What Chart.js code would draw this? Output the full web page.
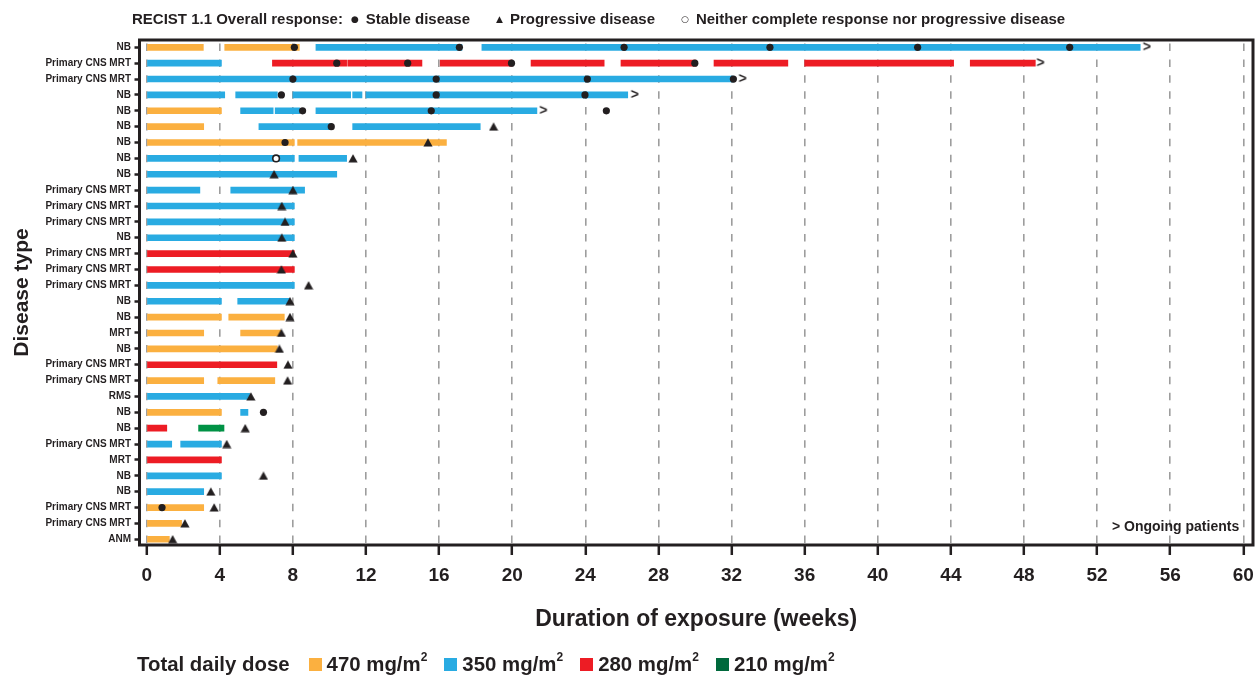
<!DOCTYPE html>
<html>
<head>
<meta charset="utf-8">
<script src="https://cdn.jsdelivr.net/npm/chart.js@4.4.1/dist/chart.umd.min.js"></script>
<style>
  html, body { margin: 0; padding: 0; background: #fff; }
  body { width: 1259px; height: 675px; position: relative; overflow: hidden;
         font-family: "Liberation Sans", Arial, Helvetica, sans-serif; color: #231f20; font-weight: bold; }
  #c { position: absolute; left: 0; top: 0; }
  #topLegend { position: absolute; left: 132px; top: 10px; font-size: 15px; line-height: 18px;
               white-space: nowrap; display: flex; align-items: center; }
  #topLegend .sym { font-family: "DejaVu Sans", sans-serif; font-size: 9px; margin: 0 7px 0 26px; }
  #topLegend .sym.first { margin-left: 8px; }
  #bottomLegend { position: absolute; left: 137px; top: 652px; font-size: 20.4px; line-height: 24px;
                  white-space: nowrap; display: flex; align-items: center; }
  #bottomLegend .sw { display: inline-block; width: 13px; height: 13px; margin: 0 5px 0 17px; }
  #bottomLegend .sw.first { margin-left: 19px; }
  #bottomLegend sup { font-size: 12px; line-height: 0; position: relative; top: -2px; }
  #ongoing { position: absolute; left: 1112px; top: 517px; font-size: 14px; line-height: 18px; white-space: nowrap; }
</style>
</head>
<body>
<canvas id="c" width="1259" height="675"></canvas>
<div id="topLegend">
  <span>RECIST 1.1 Overall response:</span>
  <span class="sym first">●</span><span>Stable disease</span>
  <span class="sym">▲</span><span>Progressive disease</span>
  <span class="sym">○</span><span>Neither complete response nor progressive disease</span>
</div>
<div id="bottomLegend">
  <span>Total daily dose</span>
  <span class="sw first" style="background:#FBB040"></span><span>470 mg/m<sup>2</sup></span>
  <span class="sw" style="background:#29ABE2"></span><span>350 mg/m<sup>2</sup></span>
  <span class="sw" style="background:#ED1C24"></span><span>280 mg/m<sup>2</sup></span>
  <span class="sw" style="background:#00693C"></span><span>210 mg/m<sup>2</sup></span>
</div>
<div id="ongoing">&gt; Ongoing patients</div>
<script>
// ---------- DATA ----------
const diseaseTypes = ['NB','Primary CNS MRT','Primary CNS MRT','NB','NB','NB','NB','NB','NB',
  'Primary CNS MRT','Primary CNS MRT','Primary CNS MRT','NB','Primary CNS MRT','Primary CNS MRT',
  'Primary CNS MRT','NB','NB','MRT','NB','Primary CNS MRT','Primary CNS MRT','RMS','NB','NB',
  'Primary CNS MRT','MRT','NB','NB','Primary CNS MRT','Primary CNS MRT','ANM'];

const xTicks = [0,4,8,12,16,20,24,28,32,36,40,44,48,52,56,60];

// [row, start week, end week]
const dose470 = [
  [0,0,3.1],[0,4.27,8.35],[4,0,4.09],[5,0,3.12],[6,0,8.08],[6,8.26,16.4],
  [17,0,4.09],[17,4.49,7.53],[18,0,3.12],[18,5.14,7.33],[19,0,7.15],
  [21,0,3.12],[21,3.89,7.01],[23,0,4.09],[29,0,3.12],[30,0,1.91],[31,0,1.24]
];
const dose350 = [
  [0,9.26,17.25],[0,18.34,54.36],[1,0,4.09],[2,0,32.1],
  [3,0,4.27],[3,4.87,7.15],[3,8.0,11.16],[3,11.27,11.78],[3,12.0,26.32],
  [4,5.14,6.92],[4,7.03,8.37],[4,9.26,21.35],[5,6.14,10.09],[5,11.27,18.25],
  [7,0,8.08],[7,8.33,10.94],[8,0,10.4],[9,0,2.91],[9,4.6,8.64],
  [10,0,8.08],[11,0,8.08],[12,0,8.08],[15,0,8.08],[16,0,4.09],[16,4.98,7.82],
  [22,0,5.63],[23,5.14,5.54],[25,0,1.37],[25,1.86,4.09],[27,0,4.09],[28,0,3.12]
];
const dose280 = [
  [1,6.88,10.94],[1,11.0,15.06],[1,16.06,19.98],[1,21.03,25.03],[1,25.95,30.05],
  [1,31.04,35.08],[1,36.0,44.15],[1,45.06,48.62],
  [13,0,8.08],[14,0,8.08],[20,0,7.12],[24,0,1.1],[26,0,4.09]
];
const dose210 = [[24,2.84,4.23]];

// [row, week]
const stableDisease = [
  [0,8.08],[0,17.11],[0,26.12],[0,34.1],[0,42.18],[0,50.5],
  [1,10.4],[1,14.28],[1,19.96],[1,29.99],
  [2,8.0],[2,15.84],[2,24.11],[2,32.1],
  [3,7.37],[3,15.84],[3,23.98],
  [4,8.53],[4,15.57],[4,25.15],
  [5,10.1],[6,7.57],[23,6.39],[29,0.84]
];
const progressiveDisease = [
  [5,18.98],[6,15.39],[7,11.29],[8,6.97],[9,8.0],[10,7.39],[11,7.57],[12,7.39],[13,8.0],
  [14,7.37],[15,8.86],[16,7.84],[17,7.84],[18,7.37],[19,7.26],[20,7.73],[21,7.71],[22,5.7],
  [24,5.39],[25,4.38],[27,6.39],[28,3.51],[29,3.69],[30,2.09],[31,1.42]
];
const neitherCRnorPD = [[7,7.08]];
const ongoing = [[0,54.72],[1,48.9],[2,32.6],[3,26.7],[4,21.7]];

// ---------- STYLE ----------
const INK = '#231f20';
const FONT = '"Liberation Sans", Arial, Helvetica, sans-serif';
const toBars = arr => arr.map(([r, s, e]) => ({ y: r, x: [s, e] }));
const toPts = arr => arr.map(([r, w]) => ({ y: r, x: w }));

function makeTriangle() {
  const c = document.createElement('canvas'); c.width = 10; c.height = 9;
  const g = c.getContext('2d'); g.fillStyle = INK;
  g.beginPath(); g.moveTo(5, 0.3); g.lineTo(9.6, 8.6); g.lineTo(0.4, 8.6); g.closePath(); g.fill();
  return c;
}
function makeArrow() {
  const c = document.createElement('canvas'); c.width = 10; c.height = 12;
  const g = c.getContext('2d'); g.fillStyle = INK;
  g.font = 'bold 14px ' + FONT; g.textAlign = 'center'; g.textBaseline = 'middle';
  g.fillText('>', 5, 6.5);
  return c;
}

const barDs = (data, color) => ({
  type: 'bar', indexAxis: 'y', data: toBars(data), backgroundColor: color,
  borderWidth: 0, barThickness: 6, grouped: false, order: 2
});

const framePlugin = {
  id: 'frame',
  beforeDatasetsDraw(chart) {
    const { ctx, chartArea: a } = chart;
    ctx.save(); ctx.lineWidth = 3; ctx.strokeStyle = INK;
    ctx.strokeRect(a.left, a.top, a.right - a.left, a.bottom - a.top);
    ctx.restore();
  }
};

new Chart(document.getElementById('c'), {
  type: 'bar',
  data: {
    datasets: [
      { type: 'scatter', data: toPts(stableDisease), pointStyle: 'circle', pointRadius: 3.6,
        backgroundColor: INK, borderWidth: 0, order: 0 },
      { type: 'scatter', data: toPts(progressiveDisease), pointStyle: makeTriangle(), pointRadius: 5, order: 0 },
      { type: 'scatter', data: toPts(neitherCRnorPD), pointStyle: 'circle', pointRadius: 3.3,
        backgroundColor: '#fff', borderColor: INK, borderWidth: 1.6, order: 0 },
      { type: 'scatter', data: toPts(ongoing), pointStyle: makeArrow(), pointRadius: 5, order: 0 },
      barDs(dose470, '#FBB040'),
      barDs(dose350, '#29ABE2'),
      barDs(dose280, '#ED1C24'),
      barDs(dose210, '#009245')
    ]
  },
  options: {
    responsive: false, animation: false, devicePixelRatio: 1, events: [],
    layout: { padding: { top: 40, right: 4, left: 0, bottom: 0 } },
    plugins: { legend: { display: false }, tooltip: { enabled: false } },
    scales: {
      x: {
        type: 'linear', position: 'bottom', min: -0.393, max: 60.53, offset: false,
        afterBuildTicks: s => { s.ticks = xTicks.map(v => ({ value: v })); },
        afterFit: s => { s.height = 130; s.paddingLeft = 0; s.paddingRight = 0; },
        ticks: { autoSkip: false, maxRotation: 0, padding: 9.5, color: INK,
                 font: { family: FONT, size: 19, weight: 'bold' } },
        grid: { display: true, offset: false, drawOnChartArea: true, color: '#9d9d9d', lineWidth: 1.6,
                drawTicks: true, tickLength: 10, tickColor: INK, tickWidth: 2.5 },
        border: { display: false, dash: [7.5, 8.371], dashOffset: 12.32 },
        title: { display: true, text: 'Duration of exposure (weeks)', color: INK,
                 font: { family: FONT, size: 23, weight: 'bold' }, padding: { top: 0, bottom: 41.5 } }
      },
      y: {
        type: 'linear', position: 'left', reverse: true, min: -0.46, max: 31.36, offset: false,
        afterBuildTicks: s => { s.ticks = diseaseTypes.map((_, i) => ({ value: i })); },
        afterFit: s => { s.width = 139.5; },
        ticks: { autoSkip: false, padding: 3.5, color: INK,
                 font: { family: FONT, size: 10, weight: 'bold' },
                 callback: v => diseaseTypes[v] ?? '' },
        grid: { display: true, offset: false, drawOnChartArea: false, drawTicks: true, tickLength: 5,
                tickColor: INK, tickWidth: 2.5 },
        border: { display: false },
        title: { display: true, text: 'Disease type', color: INK,
                 font: { family: FONT, size: 21, weight: 'bold' }, padding: { top: 9.4, bottom: 0 } }
      }
    }
  },
  plugins: [framePlugin]
});
</script>
</body>
</html>
